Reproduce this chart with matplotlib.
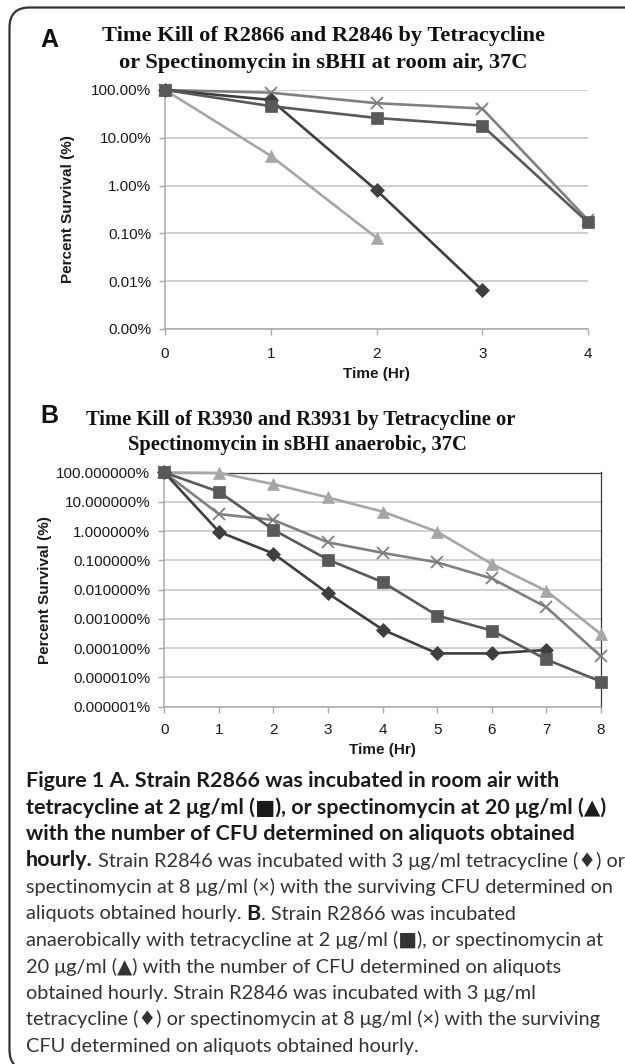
import matplotlib
matplotlib.use("Agg")
import matplotlib.pyplot as plt
from matplotlib.patches import FancyBboxPatch
from matplotlib.transforms import IdentityTransform
from matplotlib.ticker import NullLocator

# ---------------- data ----------------
hours_A = [0, 1, 2, 3, 4]
A_square = [100, 46, 26, 18, 0.17]          # R2866 tetracycline 2 ug/ml
A_triangle = [100, 4.2, 0.081]              # R2866 spectinomycin 20 ug/ml
A_diamond = [100, 62, 0.8, 0.0065]          # R2846 tetracycline 3 ug/ml
A_cross = [100, 88, 53, 41, 0.19]           # R2846 spectinomycin 8 ug/ml
A_yticks = [0.001, 0.01, 0.1, 1, 10, 100]
A_ylabels = ["0.00%", "0.01%", "0.10%", "1.00%", "10.00%", "100.00%"]

hours_B = [0, 1, 2, 3, 4, 5, 6, 7, 8]
B_square = [100, 22, 1.1, 0.105, 0.018, 0.0013, 0.0004, 0.000041, 0.0000072]
B_triangle = [100, 97, 40, 14, 4.6, 0.95, 0.075, 0.009, 0.0003]
B_diamond = [100, 0.95, 0.17, 0.0074, 0.00043, 0.000066, 0.000066, 0.000087]
B_cross = [100, 3.8, 2.4, 0.41, 0.18, 0.085, 0.024, 0.0025, 0.000052]
B_yticks = [1e-6, 1e-5, 1e-4, 1e-3, 1e-2, 1e-1, 1, 10, 100]
B_ylabels = ["0.000001%", "0.000010%", "0.000100%", "0.001000%", "0.010000%",
             "0.100000%", "1.000000%", "10.000000%", "100.000000%"]

title_A = ["Time Kill of R2866 and R2846 by Tetracycline",
           "or Spectinomycin in sBHI at room air, 37C"]
title_B = ["Time Kill of R3930 and R3931 by Tetracycline or",
           "Spectinomycin in sBHI anaerobic, 37C"]

caption = [
    [("Figure 1 A. Strain R2866 was incubated in room air with", "bold")],
    [("tetracycline at 2 \u03bcg/ml (\u25a0), or spectinomycin at 20 \u03bcg/ml (\u25b2)", "bold")],
    [("with the number of CFU determined on aliquots obtained", "bold")],
    [("hourly.", "bold"), (" Strain R2846 was incubated with 3 \u03bcg/ml tetracycline (\u2666) or", "normal")],
    [("spectinomycin at 8 \u03bcg/ml (\u00d7) with the surviving CFU determined on", "normal")],
    [("aliquots obtained hourly. ", "normal"), ("B", "bold"), (". Strain R2866 was incubated", "normal")],
    [("anaerobically with tetracycline at 2 \u03bcg/ml (\u25a0), or spectinomycin at", "normal")],
    [("20 \u03bcg/ml (\u25b2) with the number of CFU determined on aliquots", "normal")],
    [("obtained hourly. Strain R2846 was incubated with 3 \u03bcg/ml", "normal")],
    [("tetracycline (\u2666) or spectinomycin at 8 \u03bcg/ml (\u00d7) with the surviving", "normal")],
    [("CFU determined on aliquots obtained hourly.", "normal")],
]

# ---------------- style ----------------
W, H = 625, 1064
fig = plt.figure(figsize=(W / 100, H / 100), dpi=100)
fig.patch.set_facecolor("white")

C_SQ = "#595959"
C_TRI = "#a6a6a6"
C_DIA = "#3f3f3f"
C_X = "#808080"
GRID = "#c3c3c3"
AX = "#a9a9a9"
TXT = "#1a1a1a"
SANS = ["Liberation Sans", "DejaVu Sans"]
SERIF = ["Liberation Serif", "DejaVu Serif"]
CAPF = ["Lato", "DejaVu Sans"]


def fx(px):
    return px / W


def fy(py):
    return 1 - py / H


def series(ax, x, y, color, marker, ms, z=3):
    if marker == "x":
        ax.plot(x, y, color=color, lw=1.9, marker="x", ms=ms, mew=1.3,
                mec=color, zorder=z, clip_on=False)
    else:
        ax.plot(x, y, color=color, lw=1.9, marker=marker, ms=ms, mfc=color,
                mec=color, mew=0.5, zorder=z, clip_on=False)


def style_axes(ax, xmax, ticks, labels, ylim, boxed):
    ax.set_yscale("log")
    ax.set_ylim(*ylim)
    ax.set_xlim(0, xmax)
    ax.set_xticks(range(0, xmax + 1))
    ax.set_yticks(ticks)
    ax.set_yticklabels(labels)
    ax.yaxis.set_minor_locator(NullLocator())
    ax.grid(axis="y", color=GRID, lw=1.1, zorder=0)
    ax.set_axisbelow(True)
    for s in ("left", "bottom"):
        ax.spines[s].set_color(AX)
        ax.spines[s].set_linewidth(1.1)
    if boxed:
        for s in ("top", "right"):
            ax.spines[s].set_color("#3a3a3a")
            ax.spines[s].set_linewidth(0.9)
    else:
        for s in ("top", "right"):
            ax.spines[s].set_visible(False)
    ax.tick_params(axis="both", colors=AX, length=4, width=1.0,
                   labelcolor=TXT, labelsize=11)
    ax.tick_params(axis="x", pad=9)
    ax.tick_params(axis="y", pad=6)
    for lab in ax.get_xticklabels() + ax.get_yticklabels():
        lab.set_family(SANS)


# ---------------- panel A ----------------
axA = fig.add_axes([fx(165), fy(329), fx(588) - fx(165), fy(90) - fy(329)])
series(axA, hours_A[:len(A_triangle)], A_triangle, C_TRI, "^", 9)
series(axA, hours_A, A_cross, C_X, "x", 9)
series(axA, hours_A[:len(A_diamond)], A_diamond, C_DIA, "D", 7)
series(axA, hours_A, A_square, C_SQ, "s", 8.5)
style_axes(axA, 4, A_yticks, A_ylabels, (1e-3, 100), False)
axA.set_xlabel("Time (Hr)", fontsize=11, fontweight="bold", family=SANS,
               color=TXT, labelpad=4)
axA.set_ylabel("Percent Survival (%)", fontsize=11, fontweight="bold",
               family=SANS, color=TXT)

# ---------------- panel B ----------------
axB = fig.add_axes([fx(164.3), fy(706.7), fx(601) - fx(164.3), fy(472.5) - fy(706.7)])
series(axB, hours_B, B_triangle, C_TRI, "^", 9)
series(axB, hours_B, B_cross, C_X, "x", 9)
series(axB, hours_B[:len(B_diamond)], B_diamond, C_DIA, "D", 7)
series(axB, hours_B, B_square, C_SQ, "s", 8.5)
style_axes(axB, 8, B_yticks, B_ylabels, (1e-6, 100), True)
axB.tick_params(axis="x", pad=8)
axB.set_xlabel("Time (Hr)", fontsize=11, fontweight="bold", family=SANS,
               color=TXT, labelpad=4)
axB.set_ylabel("Percent Survival (%)", fontsize=11, fontweight="bold",
               family=SANS, color=TXT)


def place_ylabel(ax, xc_px):
    pos = ax.get_position()
    ax.yaxis.set_label_coords((xc_px - pos.x0 * W) / (pos.width * W), 0.5)
    ax.yaxis.label.set_va("center")


place_ylabel(axA, 68)
place_ylabel(axB, 45)

# ---------------- titles ----------------
fig.text(fx(40), fy(47), "A", fontsize=18, fontweight="bold", family=SANS,
         color="#111111", va="baseline", ha="left")
fig.text(fx(323.5), fy(41), title_A[0], fontsize=16.1, fontweight="bold",
         family=SERIF, color="#111111", ha="center", va="baseline")
fig.text(fx(323), fy(68), title_A[1], fontsize=16.1, fontweight="bold",
         family=SERIF, color="#111111", ha="center", va="baseline")
fig.text(fx(40), fy(423), "B", fontsize=18, fontweight="bold", family=SANS,
         color="#111111", va="baseline", ha="left")
fig.text(fx(300.5), fy(425), title_B[0], fontsize=14.8, fontweight="bold",
         family=SERIF, color="#111111", ha="center", va="baseline")
fig.text(fx(297), fy(450), title_B[1], fontsize=14.8, fontweight="bold",
         family=SERIF, color="#111111", ha="center", va="baseline")

# ---------------- caption ----------------
renderer = fig.canvas.get_renderer()


def width_px(s, size, weight):
    t = fig.text(0, 0, s, fontsize=size, fontweight=weight, family=CAPF)
    w = t.get_window_extent(renderer).width
    t.remove()
    return w


size_reg = 12 * 585.0 / width_px(caption[4][0][0], 12, "normal")
size_bold = 12 * 530.0 / width_px(caption[0][0][0], 12, "bold")

x0 = 26
base0 = 787
step = 26.5
for i, segs in enumerate(caption):
    x = x0
    yb = base0 + i * step
    for s, wgt in segs:
        sz = size_bold if wgt == "bold" else size_reg
        col = "#1a1a1a" if wgt == "bold" else "#333333"
        t = fig.text(fx(x), fy(yb), s, fontsize=sz, fontweight=wgt,
                     family=CAPF, color=col, ha="left", va="baseline")
        x += t.get_window_extent(renderer).width

# ---------------- frame ----------------
frame = FancyBboxPatch((9.5, -6), 660, H - 7.5 + 6,
                       boxstyle="round,pad=0,rounding_size=20",
                       transform=IdentityTransform(), fill=False,
                       edgecolor="#333333", lw=1.6)
fig.add_artist(frame)

fig.savefig("out.png", dpi=100)
